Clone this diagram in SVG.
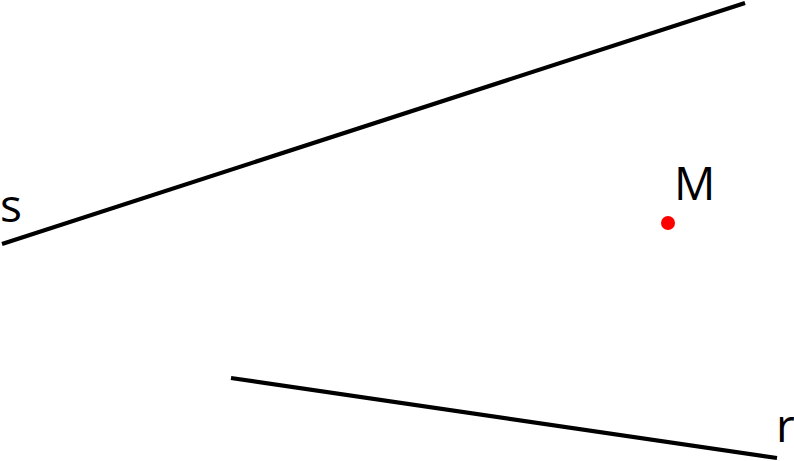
<svg xmlns="http://www.w3.org/2000/svg" width="794" height="461" viewBox="0 0 794 461">
<style>
.ln{stroke:#000;stroke-width:4.2;fill:none}
.lb{font-family:"Open Sans","Liberation Sans",sans-serif;font-size:46px;fill:#000}
</style>
<rect width="794" height="461" fill="#fff"/>
<g id="connectors">
<line class="ln" x1="2" y1="244" x2="745" y2="3"/>
<line class="ln" x1="231" y1="378" x2="777" y2="458"/>
</g>
<g id="s"><text class="lb" x="0" y="222">s</text></g>
<g id="r"><text class="lb" x="776" y="442">r</text></g>
<g id="M"><circle cx="668" cy="223" r="7" fill="#f00"/><text class="lb" x="674" y="200">M</text></g>
</svg>
